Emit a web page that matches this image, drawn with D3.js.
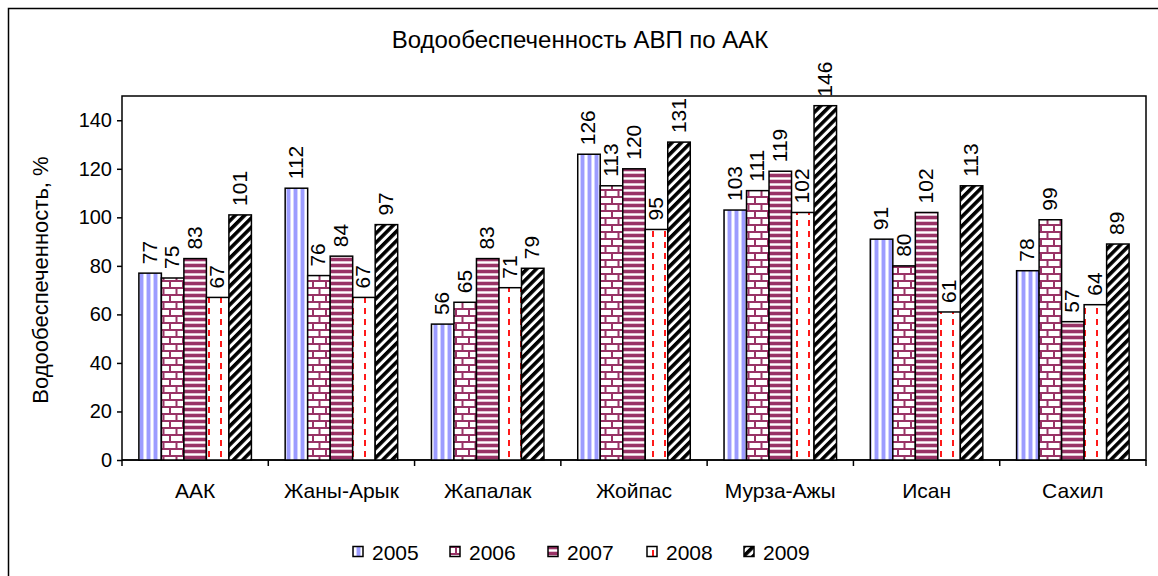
<!DOCTYPE html>
<html>
<head>
<meta charset="utf-8">
<script src="https://cdn.jsdelivr.net/npm/d3@7"></script>
<style>
  html, body { margin: 0; padding: 0; background: #fff; }
  text { font-family: "Liberation Sans", Arial, sans-serif; fill: #000; }
</style>
</head>
<body>
<svg id="chart" width="1158" height="576"></svg>
<script>
const title = "Водообеспеченность АВП по ААК";
const yTitle = "Водообеспеченность, %";
const categories = ["ААК", "Жаны-Арык", "Жапалак", "Жойпас", "Мурза-Ажы", "Исан", "Сахил"];
const years = ["2005", "2006", "2007", "2008", "2009"];
const v2005 = [77, 112, 56, 126, 103, 91, 78];
const v2006 = [75, 76, 65, 113, 111, 80, 99];
const v2007 = [83, 84, 83, 120, 119, 102, 57];
const v2008 = [67, 67, 71, 95, 102, 61, 64];
const v2009 = [101, 97, 79, 131, 146, 113, 89];
const yTicks = [0, 20, 40, 60, 80, 100, 120, 140];

const seriesValues = [v2005, v2006, v2007, v2008, v2009];

const svg = d3.select("#chart");
svg.append("rect").attr("width", 1158).attr("height", 576).attr("fill", "#fff");

// Patterns
const defs = svg.append("defs");
function pat(id, w, h, transform) {
  const p = defs.append("pattern").attr("id", id).attr("patternUnits", "userSpaceOnUse")
    .attr("width", w).attr("height", h);
  if (transform) p.attr("patternTransform", transform);
  p.append("rect").attr("width", w).attr("height", h).attr("fill", "#fff");
  return p;
}
// 2005: vertical blue stripes
let p = pat("p2005", 7, 10);
p.append("rect").attr("x", 0).attr("width", 3).attr("height", 10).attr("fill", "#9c9cff");
p.append("rect").attr("x", 3).attr("width", 1).attr("height", 10).attr("fill", "#d2d2ff");
p.append("rect").attr("x", 6).attr("width", 1).attr("height", 10).attr("fill", "#d2d2ff");
// 2006: brick
p = pat("p2006", 13, 14);
p.append("path").attr("d", "M0,1H13M0,8H13M1,0V8M7.5,8V14")
  .attr("stroke", "#993366").attr("stroke-width", 2).attr("fill", "none");
// 2007: horizontal stripes
p = pat("p2007", 10, 6);
p.append("rect").attr("y", 0).attr("width", 10).attr("height", 3).attr("fill", "#993366");
p.append("rect").attr("y", 3).attr("width", 10).attr("height", 1).attr("fill", "#e3c3d3");
p.append("rect").attr("y", 5).attr("width", 10).attr("height", 1).attr("fill", "#e3c3d3");
// 2008: red dashed vertical lines
p = pat("p2008", 12, 11);
p.append("rect").attr("x", 4).attr("y", 0).attr("width", 2).attr("height", 6).attr("fill", "#ff1a1a");
// 2009: black diagonal stripes
p = pat("p2009", 6.6, 10, "rotate(45)");
p.append("rect").attr("x", 0).attr("width", 3.6).attr("height", 10).attr("fill", "#000");

const plot = { left: 122, right: 1146, top: 96, bottom: 460 };

const x = d3.scaleBand().domain(categories).range([plot.left, plot.right]).padding(0);
const xs = d3.scaleBand().domain(years).range([0, x.bandwidth()]).paddingInner(0).paddingOuter(0.75);
const y = d3.scaleLinear().domain([0, 150]).range([plot.bottom, plot.top]);

// Outer chart border
svg.append("rect").attr("x", 8.5).attr("y", 8.5).attr("width", 1170).attr("height", 600)
  .attr("fill", "none").attr("stroke", "#000").attr("stroke-width", 1.5);

// Plot area border
svg.append("rect").attr("x", plot.left).attr("y", plot.top)
  .attr("width", plot.right - plot.left).attr("height", plot.bottom - plot.top)
  .attr("fill", "none").attr("stroke", "#000").attr("stroke-width", 1.5);

// Title
svg.append("text").attr("x", 580).attr("y", 48).attr("text-anchor", "middle")
  .attr("font-size", 24).text(title);

// Y axis
const yAxis = svg.append("g").attr("transform", `translate(${plot.left},0)`)
  .call(d3.axisLeft(y).tickValues(yTicks).tickSize(5).tickPadding(5).tickFormat(d3.format("d")));
yAxis.select("path.domain").remove();
yAxis.selectAll("line").attr("stroke", "#000").attr("stroke-width", 1.5);
yAxis.selectAll("text").attr("font-size", 20).attr("font-family", "Liberation Sans, Arial, sans-serif");

svg.append("text").attr("transform", `translate(48,${(plot.top + plot.bottom) / 2 + 2}) rotate(-90)`)
  .attr("text-anchor", "middle").attr("font-size", 22).text(yTitle);

// X axis
const xAxis = svg.append("g").attr("transform", `translate(0,${plot.bottom})`);
xAxis.append("line").attr("x1", plot.left).attr("x2", plot.right).attr("stroke", "#000").attr("stroke-width", 1.5);
const boundaries = categories.map(c => x(c)).concat([x(categories[categories.length - 1]) + x.bandwidth()]);
xAxis.selectAll("line.tick").data(boundaries).join("line").attr("class", "tick")
  .attr("x1", d => d).attr("x2", d => d).attr("y1", 0).attr("y2", 6)
  .attr("stroke", "#000").attr("stroke-width", 1.5);
xAxis.selectAll("text").data(categories).join("text")
  .attr("x", d => x(d) + x.bandwidth() / 2).attr("y", 38)
  .attr("text-anchor", "middle").attr("font-size", 21).text(d => d);

// Bars
const bars = [];
seriesValues.forEach((vals, si) => {
  vals.forEach((v, ci) => bars.push({ year: years[si], cat: categories[ci], v }));
});
const gBars = svg.append("g");
gBars.selectAll("rect").data(bars).join("rect")
  .attr("x", d => x(d.cat) + xs(d.year))
  .attr("y", d => y(d.v))
  .attr("width", xs.bandwidth())
  .attr("height", d => y(0) - y(d.v))
  .attr("fill", d => `url(#p${d.year})`)
  .attr("stroke", "#000").attr("stroke-width", 1.5);

gBars.selectAll("text").data(bars).join("text")
  .attr("transform", d => `translate(${x(d.cat) + xs(d.year) + xs.bandwidth() / 2 - 1},${y(d.v) - 9}) rotate(-90)`)
  .attr("text-anchor", "start").attr("dominant-baseline", "central")
  .attr("font-size", 21).text(d => d.v);

// Legend
const legendX = [353, 450, 548, 647, 744];
const lg = svg.append("g");
years.forEach((yr, i) => {
  lg.append("rect").attr("x", legendX[i]).attr("y", 546.5).attr("width", 10).attr("height", 10)
    .attr("fill", `url(#p${yr})`).attr("stroke", "#000").attr("stroke-width", 1.5);
  lg.append("text").attr("x", legendX[i] + 19).attr("y", 560).attr("font-size", 21).text(yr);
});
</script>
</body>
</html>
